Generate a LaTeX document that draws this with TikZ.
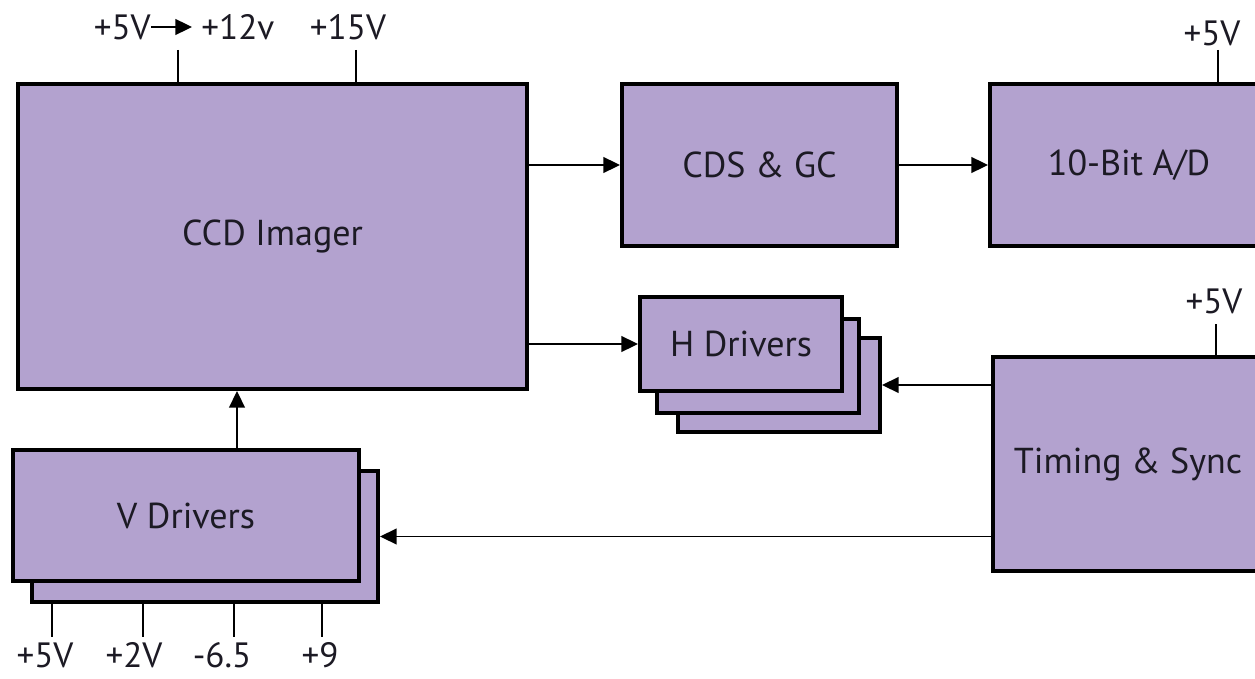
\documentclass[tikz,border=0pt]{standalone}
\usepackage{fontspec}
\setmainfont{PT Sans}
\usepackage{tikz}
\usetikzlibrary{arrows.meta,positioning}
\definecolor{lavender}{HTML}{B3A2CF}
\definecolor{inkdark}{HTML}{1C1A24}
\tikzset{
  block/.style={draw=black, line width=2.3pt, fill=lavender, inner sep=0pt, align=center, text=inkdark, font=\fontsize{20.5}{24}\selectfont},
  wire/.style={draw=black, line width=1.1pt},
  arrow/.style={-{Triangle[length=9.5pt,width=9pt]}, line width=1.1pt, draw=black},
  supply/.style={inner sep=0pt, text=inkdark, font=\fontsize{20}{24}\selectfont}
}
\begin{document}
\begin{tikzpicture}[x=0.2mm, y=-0.2mm]
  \useasboundingbox (0,0) rectangle (1255,678);
  \clip (0,0) rectangle (1255,678);

  \node[block, minimum width=101.8mm, minimum height=61mm] (ccd) at (272.5,236.5) {CCD Imager};
  \node[block, minimum width=55mm, minimum height=32.4mm] (cds) at (759.5,165) {CDS \& GC};
  \node[block, minimum width=55.6mm, minimum height=32.4mm] (adc) at (1129,165) {10-Bit A/D};
  \node[block, minimum width=54mm, minimum height=42.8mm] (timing) at (1128,464) {Timing \& Sync};

  \node[block, minimum width=40.4mm, minimum height=18.8mm] (hd3) at (779,385) {};
  \node[block, minimum width=40.4mm, minimum height=18.8mm] (hd2) at (758,366) {};
  \node[block, minimum width=40.4mm, minimum height=18.8mm] (hd1) at (741,344) {H Drivers};

  \node[block, minimum width=69.2mm, minimum height=26.2mm] (vd2) at (205,536.5) {};
  \node[block, minimum width=69.2mm, minimum height=26.2mm] (vd1) at (186,515.5) {V Drivers};

  \draw[arrow] (ccd.east |- cds.west) -- (cds.west);
  \draw[arrow] (cds.east) -- (adc.west);
  \draw[arrow] (ccd.east |- hd1.west) -- (hd1.west);
  \draw[arrow] (timing.west |- hd3.east) -- (hd3.east);
  \draw[arrow] (timing.west |- vd2.east) -- (vd2.east);
  \draw[arrow] ([xshift=10.2mm]vd1.north) -- ([xshift=10.2mm]vd1.north |- ccd.south);

  \coordinate (ccdpin1) at (178,50);
  \coordinate (ccdpin2) at (356,50);
  \draw[wire] (ccdpin1) -- (ccdpin1 |- ccd.north);
  \draw[wire] (ccdpin2) -- (ccdpin2 |- ccd.north);
  \node[supply, anchor=east] (ccdlow) at (151,27) {+5V};
  \node[supply, anchor=west] (ccdhigh) at (201,27) {+12v};
  \draw[arrow, shorten >=1.8mm] (ccdlow.east) -- (ccdhigh.west);
  \node[supply] (ccdfifteen) at (348,27) {+15V};

  \coordinate (adcpin) at (1218,50);
  \draw[wire] (adcpin) -- (adcpin |- adc.north);
  \node[supply] (adcvolt) at (1212,33) {+5V};

  \coordinate (timingpin) at (1216,324);
  \draw[wire] (timingpin) -- (timingpin |- timing.north);
  \node[supply] (timingvolt) at (1214,301) {+5V};

  \foreach \px/\lx/\volt [count=\i] in {52/45/+5V,143/134/+2V,234/222/-6.5,322/320/+9} {
    \coordinate (vpin\i) at (\px,637);
    \draw[wire] (vpin\i |- vd2.south) -- (vpin\i);
    \node[supply] (vlab\i) at (\lx,655) {\volt};
  }
\end{tikzpicture}
\end{document}
